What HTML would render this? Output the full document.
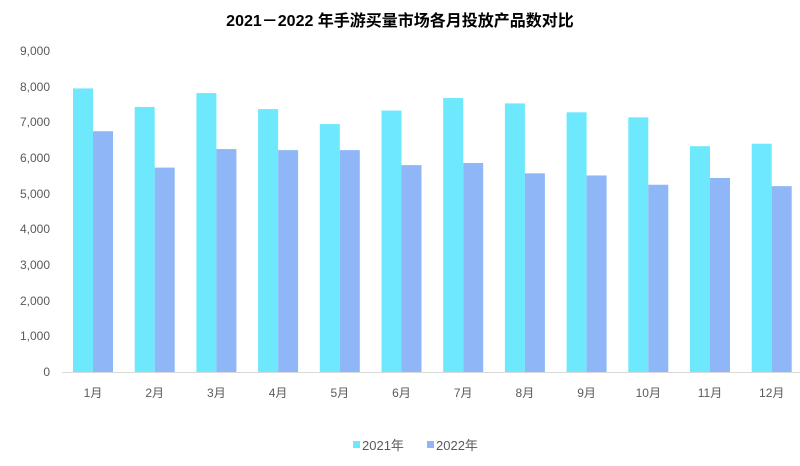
<!DOCTYPE html>
<html><head><meta charset="utf-8"><style>
body{margin:0;background:#fff;}
svg text{font-family:"Liberation Sans","Noto Sans CJK SC",sans-serif;}
</style></head><body>
<svg width="800" height="461" xmlns="http://www.w3.org/2000/svg">
<rect width="800" height="461" fill="#fff"/>
<text x="400" y="26" text-anchor="middle" font-size="16" font-weight="bold" fill="#000">2021－2022 年手游买量市场各月投放产品数对比</text>
<g font-size="12" fill="#595959" text-anchor="end">
<text x="50" y="376">0</text><text x="50" y="340">1,000</text><text x="50" y="305">2,000</text><text x="50" y="269">3,000</text><text x="50" y="233">4,000</text><text x="50" y="198">5,000</text><text x="50" y="162">6,000</text><text x="50" y="126">7,000</text><text x="50" y="91">8,000</text><text x="50" y="55">9,000</text>
</g>
<g id="bars"></g>
<line x1="62" y1="372.5" x2="800" y2="372.5" stroke="#d9d9d9" stroke-width="1"/>
<g font-size="12" fill="#595959" text-anchor="middle" id="lbl"></g>
<rect x="353" y="441" width="7" height="7" fill="#6ee8fc"/>
<text x="362" y="450" font-size="13" fill="#595959">2021年</text>
<rect x="427" y="441" width="7" height="7" fill="#8fb7f7"/>
<text x="436" y="450" font-size="13" fill="#595959">2022年</text>
<script>
var a=[7950,7430,7820,7370,6950,7330,7680,7530,7280,7140,6330,6400];
var b=[6750,5730,6250,6220,6220,5800,5860,5570,5510,5250,5440,5210];
var g=document.getElementById('bars'),l=document.getElementById('lbl'),ns='http://www.w3.org/2000/svg';
for(var i=0;i<12;i++){var c=93+i*61.7;
[[a[i],c-20,'#6ee8fc'],[b[i],c,'#8fb7f7']].forEach(function(v){var r=document.createElementNS(ns,'rect');var h=v[0]*0.03567;r.setAttribute('x',v[1]);r.setAttribute('y',372-h);r.setAttribute('width',20);r.setAttribute('height',h);r.setAttribute('fill',v[2]);g.appendChild(r);});
var t=document.createElementNS(ns,'text');t.setAttribute('x',c);t.setAttribute('y',397);t.textContent=(i+1)+'月';l.appendChild(t);}
</script>
</svg>
</body></html>
